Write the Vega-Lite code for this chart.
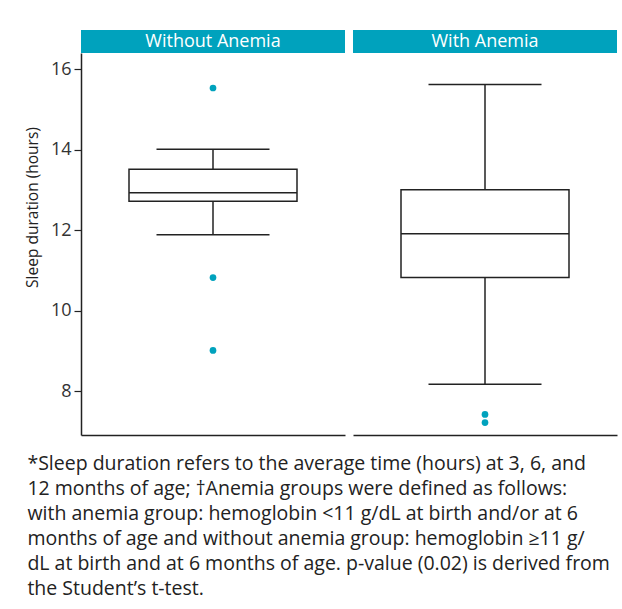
{
  "$schema": "https://vega.github.io/schema/vega-lite/v6.json",
  "background": "white",
  "padding": {"left": 25, "top": 30, "right": 5, "bottom": 5},
  "datasets": {
    "stats": [
      {"group": "Without Anemia", "lower": 11.885, "q1": 12.72, "median": 12.93, "q3": 13.51, "upper": 14.01},
      {"group": "With Anemia", "lower": 8.17, "q1": 10.82, "median": 11.91, "q3": 13.0, "upper": 15.62}
    ],
    "outliers": [
      {"group": "Without Anemia", "value": 15.53},
      {"group": "Without Anemia", "value": 10.82},
      {"group": "Without Anemia", "value": 9.01},
      {"group": "With Anemia", "value": 7.42},
      {"group": "With Anemia", "value": 7.22}
    ],
    "labels": [
      {"label": "Without Anemia"},
      {"label": "With Anemia"}
    ]
  },
  "title": {
    "text": [
      "*Sleep duration refers to the average time (hours) at 3, 6, and",
      "12 months of age; †Anemia groups were defined as follows:",
      "with anemia group: hemoglobin <11 g/dL at birth and/or at 6",
      "months of age and without anemia group: hemoglobin ≥11 g/",
      "dL at birth and at 6 months of age. p-value (0.02) is derived from",
      "the Student’s t-test."
    ],
    "orient": "bottom",
    "anchor": "start",
    "align": "left",
    "baseline": "top",
    "font": "Open Sans",
    "fontSize": 19.5,
    "fontWeight": "normal",
    "color": "#222222",
    "lineHeight": 25,
    "offset": 20,
    "dx": 2
  },
  "config": {
    "font": "Open Sans",
    "view": {"stroke": null}
  },
  "spacing": 8,
  "hconcat": [
    {
      "spacing": 0,
      "bounds": "flush",
      "vconcat": [
        {
          "width": 264,
          "height": 23,
          "view": {"fill": "#00a2bd", "stroke": null},
          "data": {"name": "labels"},
          "transform": [{"filter": "datum.label === 'Without Anemia'"}],
          "mark": {"type": "text", "color": "white", "fontSize": 18, "font": "Open Sans"},
          "encoding": {"text": {"field": "label", "type": "nominal"}}
        },
        {
          "width": 264,
          "height": 382,
          "layer": [
            {
              "data": {"name": "stats"},
              "transform": [{"filter": "datum.group === 'Without Anemia'"}],
              "mark": {"type": "rule", "color": "#222222", "strokeWidth": 1.5},
              "encoding": {
                "x": {"field": "group", "type": "nominal", "axis": {"title": null, "labels": false, "ticks": false, "domain": true, "domainColor": "#222222", "domainWidth": 1.5}},
                "y": {
                  "field": "lower", "type": "quantitative",
                  "title": "Sleep duration (hours)",
                  "scale": {"domain": [6.91, 16.4], "nice": false, "zero": false},
                  "axis": {"values": [8, 10, 12, 14, 16], "grid": false, "domainColor": "#222222", "domainWidth": 1.5, "tickColor": "#222222", "tickWidth": 1.2, "tickSize": 7, "labelPadding": 3, "labelFontSize": 18, "labelColor": "#333333", "labelFont": "Open Sans", "titleFontSize": 15.5, "titleFontWeight": "normal", "titleColor": "#222222", "titleFont": "Open Sans", "titlePadding": 10, "titleY": 154}
                },
                "y2": {"field": "upper"}
              }
            },
            {
              "data": {"name": "stats"},
              "transform": [{"filter": "datum.group === 'Without Anemia'"}],
              "mark": {"type": "bar", "size": 168, "fill": "white", "stroke": "#222222", "strokeWidth": 1.5},
              "encoding": {
                "x": {"field": "group", "type": "nominal"},
                "y": {
                  "field": "q1", "type": "quantitative",
                  "title": "Sleep duration (hours)",
                  "scale": {"domain": [6.91, 16.4], "nice": false, "zero": false},
                  "axis": {"values": [8, 10, 12, 14, 16], "grid": false, "domainColor": "#222222", "domainWidth": 1.5, "tickColor": "#222222", "tickWidth": 1.2, "tickSize": 7, "labelPadding": 3, "labelFontSize": 18, "labelColor": "#333333", "labelFont": "Open Sans", "titleFontSize": 15.5, "titleFontWeight": "normal", "titleColor": "#222222", "titleFont": "Open Sans", "titlePadding": 10, "titleY": 154}
                },
                "y2": {"field": "q3"}
              }
            },
            {
              "data": {"name": "stats"},
              "transform": [{"filter": "datum.group === 'Without Anemia'"}],
              "mark": {"type": "tick", "size": 168, "thickness": 1.5, "color": "#222222", "opacity": 1},
              "encoding": {
                "x": {"field": "group", "type": "nominal"},
                "y": {
                  "field": "median", "type": "quantitative",
                  "title": "Sleep duration (hours)",
                  "scale": {"domain": [6.91, 16.4], "nice": false, "zero": false},
                  "axis": {"values": [8, 10, 12, 14, 16], "grid": false, "domainColor": "#222222", "domainWidth": 1.5, "tickColor": "#222222", "tickWidth": 1.2, "tickSize": 7, "labelPadding": 3, "labelFontSize": 18, "labelColor": "#333333", "labelFont": "Open Sans", "titleFontSize": 15.5, "titleFontWeight": "normal", "titleColor": "#222222", "titleFont": "Open Sans", "titlePadding": 10, "titleY": 154}
                }
              }
            },
            {
              "data": {"name": "stats"},
              "transform": [{"filter": "datum.group === 'Without Anemia'"}],
              "mark": {"type": "tick", "size": 113, "thickness": 1.5, "color": "#222222", "opacity": 1},
              "encoding": {
                "x": {"field": "group", "type": "nominal"},
                "y": {
                  "field": "upper", "type": "quantitative",
                  "title": "Sleep duration (hours)",
                  "scale": {"domain": [6.91, 16.4], "nice": false, "zero": false},
                  "axis": {"values": [8, 10, 12, 14, 16], "grid": false, "domainColor": "#222222", "domainWidth": 1.5, "tickColor": "#222222", "tickWidth": 1.2, "tickSize": 7, "labelPadding": 3, "labelFontSize": 18, "labelColor": "#333333", "labelFont": "Open Sans", "titleFontSize": 15.5, "titleFontWeight": "normal", "titleColor": "#222222", "titleFont": "Open Sans", "titlePadding": 10, "titleY": 154}
                }
              }
            },
            {
              "data": {"name": "stats"},
              "transform": [{"filter": "datum.group === 'Without Anemia'"}],
              "mark": {"type": "tick", "size": 113, "thickness": 1.5, "color": "#222222", "opacity": 1},
              "encoding": {
                "x": {"field": "group", "type": "nominal"},
                "y": {
                  "field": "lower", "type": "quantitative",
                  "title": "Sleep duration (hours)",
                  "scale": {"domain": [6.91, 16.4], "nice": false, "zero": false},
                  "axis": {"values": [8, 10, 12, 14, 16], "grid": false, "domainColor": "#222222", "domainWidth": 1.5, "tickColor": "#222222", "tickWidth": 1.2, "tickSize": 7, "labelPadding": 3, "labelFontSize": 18, "labelColor": "#333333", "labelFont": "Open Sans", "titleFontSize": 15.5, "titleFontWeight": "normal", "titleColor": "#222222", "titleFont": "Open Sans", "titlePadding": 10, "titleY": 154}
                }
              }
            },
            {
              "data": {"name": "outliers"},
              "transform": [{"filter": "datum.group === 'Without Anemia'"}],
              "mark": {"type": "circle", "size": 45, "color": "#00a2bd", "opacity": 1},
              "encoding": {
                "x": {"field": "group", "type": "nominal"},
                "y": {
                  "field": "value", "type": "quantitative",
                  "title": "Sleep duration (hours)",
                  "scale": {"domain": [6.91, 16.4], "nice": false, "zero": false},
                  "axis": {"values": [8, 10, 12, 14, 16], "grid": false, "domainColor": "#222222", "domainWidth": 1.5, "tickColor": "#222222", "tickWidth": 1.2, "tickSize": 7, "labelPadding": 3, "labelFontSize": 18, "labelColor": "#333333", "labelFont": "Open Sans", "titleFontSize": 15.5, "titleFontWeight": "normal", "titleColor": "#222222", "titleFont": "Open Sans", "titlePadding": 10, "titleY": 154}
                }
              }
            }
          ]
        }
      ]
    },
    {
      "spacing": 0,
      "bounds": "flush",
      "vconcat": [
        {
          "width": 264,
          "height": 23,
          "view": {"fill": "#00a2bd", "stroke": null},
          "data": {"name": "labels"},
          "transform": [{"filter": "datum.label === 'With Anemia'"}],
          "mark": {"type": "text", "color": "white", "fontSize": 18, "font": "Open Sans"},
          "encoding": {"text": {"field": "label", "type": "nominal"}}
        },
        {
          "width": 264,
          "height": 382,
          "layer": [
            {
              "data": {"name": "stats"},
              "transform": [{"filter": "datum.group === 'With Anemia'"}],
              "mark": {"type": "rule", "color": "#222222", "strokeWidth": 1.5},
              "encoding": {
                "x": {"field": "group", "type": "nominal", "axis": {"title": null, "labels": false, "ticks": false, "domain": true, "domainColor": "#222222", "domainWidth": 1.5}},
                "y": {"field": "lower", "type": "quantitative", "axis": null, "scale": {"domain": [6.91, 16.4], "nice": false, "zero": false}},
                "y2": {"field": "upper"}
              }
            },
            {
              "data": {"name": "stats"},
              "transform": [{"filter": "datum.group === 'With Anemia'"}],
              "mark": {"type": "bar", "size": 168, "fill": "white", "stroke": "#222222", "strokeWidth": 1.5},
              "encoding": {
                "x": {"field": "group", "type": "nominal"},
                "y": {"field": "q1", "type": "quantitative", "axis": null, "scale": {"domain": [6.91, 16.4], "nice": false, "zero": false}},
                "y2": {"field": "q3"}
              }
            },
            {
              "data": {"name": "stats"},
              "transform": [{"filter": "datum.group === 'With Anemia'"}],
              "mark": {"type": "tick", "size": 168, "thickness": 1.5, "color": "#222222", "opacity": 1},
              "encoding": {
                "x": {"field": "group", "type": "nominal"},
                "y": {"field": "median", "type": "quantitative", "axis": null, "scale": {"domain": [6.91, 16.4], "nice": false, "zero": false}}
              }
            },
            {
              "data": {"name": "stats"},
              "transform": [{"filter": "datum.group === 'With Anemia'"}],
              "mark": {"type": "tick", "size": 113, "thickness": 1.5, "color": "#222222", "opacity": 1},
              "encoding": {
                "x": {"field": "group", "type": "nominal"},
                "y": {"field": "upper", "type": "quantitative", "axis": null, "scale": {"domain": [6.91, 16.4], "nice": false, "zero": false}}
              }
            },
            {
              "data": {"name": "stats"},
              "transform": [{"filter": "datum.group === 'With Anemia'"}],
              "mark": {"type": "tick", "size": 113, "thickness": 1.5, "color": "#222222", "opacity": 1},
              "encoding": {
                "x": {"field": "group", "type": "nominal"},
                "y": {"field": "lower", "type": "quantitative", "axis": null, "scale": {"domain": [6.91, 16.4], "nice": false, "zero": false}}
              }
            },
            {
              "data": {"name": "outliers"},
              "transform": [{"filter": "datum.group === 'With Anemia'"}],
              "mark": {"type": "circle", "size": 45, "color": "#00a2bd", "opacity": 1},
              "encoding": {
                "x": {"field": "group", "type": "nominal"},
                "y": {"field": "value", "type": "quantitative", "axis": null, "scale": {"domain": [6.91, 16.4], "nice": false, "zero": false}}
              }
            }
          ]
        }
      ]
    }
  ]
}
